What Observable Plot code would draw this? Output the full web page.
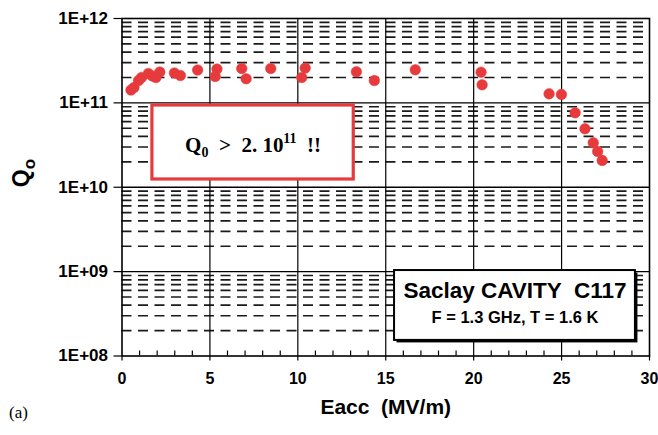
<!DOCTYPE html>
<html>
<head>
<meta charset="utf-8">
<script src="https://cdn.jsdelivr.net/npm/d3@7"></script>
<script src="https://cdn.jsdelivr.net/npm/@observablehq/plot@0.6"></script>
<style>
  html, body { margin: 0; padding: 0; background: #fff; }
  #chart svg { display: block; }
</style>
</head>
<body>
<div id="chart"></div>
<script>
// ---- data ----
const eacc = [0.51, 0.68, 0.94, 1.11, 1.50, 1.73, 1.93, 2.15, 2.98, 3.32, 4.30, 5.30, 5.40, 6.81, 7.06, 8.46, 10.22, 10.42, 13.33, 14.35, 16.68, 20.42, 20.48, 24.29, 24.99, 25.77, 26.33, 26.80, 27.05, 27.31];
const q0   = [1.42e11, 1.52e11, 1.84e11, 2.00e11, 2.23e11, 2.08e11, 2.00e11, 2.32e11, 2.26e11, 2.11e11, 2.45e11, 2.06e11, 2.52e11, 2.56e11, 1.93e11, 2.56e11, 2.00e11, 2.59e11, 2.34e11, 1.84e11, 2.47e11, 2.31e11, 1.64e11, 1.28e11, 1.26e11, 7.64e10, 4.93e10, 3.37e10, 2.66e10, 2.08e10];

const xTicks = [0, 5, 10, 15, 20, 25, 30];
const xGrid = [5, 10, 15, 20, 25];
const xMinor = [1,2,3,4,6,7,8,9,11,12,13,14,16,17,18,19,21,22,23,24,26,27,28,29];
const yTicks = [1e8, 1e9, 1e10, 1e11, 1e12];
const yTickLabels = ["1E+08", "1E+09", "1E+10", "1E+11", "1E+12"];
const yDecadeGrid = [1e9, 1e10, 1e11];
const minorMult = [2, 3, 4, 5, 6, 7, 8, 9];
const decades = [1e8, 1e9, 1e10, 1e11];

const xLabel = "Eacc  (MV/m)";
const yLabelMain = "Q";
const yLabelSub = "o";
const panelLabel = "(a)";
const redText = "Q0 > 2. 10^11 !!";

// annotation boxes (data units)
const redBox = {x1: 1.73, x2: 13.18, y1: 1.236e10, y2: 9.31e10};
const blackBox = {x1: 15.5, x2: 29.2, y1: 1.53e8, y2: 1.03e9};
const infoLine1 = "Saclay CAVITY  C117";
const infoLine2 = "F = 1.3 GHz, T = 1.6 K";

// ---- derived tables ----
const points = eacc.map((x, i) => ({x, y: q0[i]}));
const yMinor = decades.flatMap(d => minorMult.map(m => m * d));

const W = 658, H = 435;
const mL = 121.5, mR = 9, mT = 18, mB = 79.5;
const innerH = H - mT - mB;
const sans = "'Liberation Sans', Arial, Helvetica, sans-serif";
const serif = "'Liberation Serif', 'Times New Roman', Times, serif";
const red = "#e63a3c";

const plot = Plot.plot({
  width: W,
  height: H,
  marginLeft: mL,
  marginRight: mR,
  marginTop: mT,
  marginBottom: mB,
  style: {fontFamily: sans, background: "#fff", color: "#000"},
  x: {domain: [0, 30]},
  y: {type: "log", domain: [1e8, 1e12]},
  marks: [
    Plot.ruleY(yMinor, {stroke: "#1a1a1a", strokeWidth: 1.7, strokeDasharray: "10,6.5"}),
    Plot.ruleY(yDecadeGrid, {stroke: "#000", strokeWidth: 1.4}),
    Plot.ruleX(xGrid, {stroke: "#000", strokeWidth: 1.2}),
    Plot.tickX(xMinor, {stroke: "#000", strokeWidth: 1.2, insetTop: innerH - 5}),
    Plot.rect([redBox], {x1: "x1", x2: "x2", y1: "y1", y2: "y2", fill: "#fff", stroke: red, strokeWidth: 3.2}),
    Plot.text([redText], {
      x: (redBox.x1 + redBox.x2) / 2,
      y: Math.sqrt(redBox.y1 * redBox.y2),
      dy: 3,
      fontFamily: serif, fontWeight: "bold", fontSize: 21, fill: "#000"
    }),
    Plot.rect([blackBox], {x1: "x1", x2: "x2", y1: "y1", y2: "y2", fill: "#000", dx: 2.5, dy: 2.5}),
    Plot.rect([blackBox], {x1: "x1", x2: "x2", y1: "y1", y2: "y2", fill: "#fff", stroke: "#000", strokeWidth: 2}),
    Plot.text([infoLine1], {
      x: (blackBox.x1 + blackBox.x2) / 2,
      y: Math.sqrt(blackBox.y1 * blackBox.y2),
      dy: -15, fontWeight: "bold", fontSize: 22.5, fill: "#000"
    }),
    Plot.text([infoLine2], {
      x: (blackBox.x1 + blackBox.x2) / 2,
      y: Math.sqrt(blackBox.y1 * blackBox.y2),
      dy: 12, fontWeight: "bold", fontSize: 16.5, fill: "#000"
    }),
    Plot.dot(points, {x: "x", y: "y", r: 5.3, fill: red, stroke: red, strokeWidth: 0.5}),
    Plot.frame({stroke: "#000", strokeWidth: 1.6}),
    Plot.axisX(xTicks, {
      tickSize: 5, tickPadding: 12, fontSize: 16, fontWeight: "bold",
      label: null, stroke: "#000", strokeWidth: 1.2
    }),
    Plot.axisY(yTicks, {
      tickSize: 8, tickPadding: 6, fontSize: 17, fontWeight: "bold",
      tickFormat: d => yTickLabels[yTicks.indexOf(d)],
      label: null, stroke: "#000", strokeWidth: 1.2
    }),
    Plot.text([xLabel], {frameAnchor: "bottom", dy: 58, fontSize: 21, fontWeight: "bold", fill: "#000"}),
    Plot.text([yLabelMain], {frameAnchor: "left", dx: -100, rotate: -90, fontSize: 23, fontWeight: "bold", fill: "#000"}),
    Plot.text([panelLabel], {frameAnchor: "bottom-left", dx: -113, dy: 62, textAnchor: "start", fontFamily: serif, fontSize: 17, fill: "#000"})
  ]
});

document.getElementById("chart").appendChild(plot);

// rich text: subscripts / superscripts as real tspans
const svg = d3.select(plot);
const byText = s => svg.selectAll("text").filter(function () { return this.textContent === s; });

byText(redText).each(function () {
  const t = d3.select(this);
  t.text(null).style("white-space", "pre");
  t.append("tspan").text("Q");
  t.append("tspan").attr("dy", 5).attr("font-size", 14).text("0");
  t.append("tspan").attr("dy", -5).text("  >  2. 10");
  t.append("tspan").attr("dy", -9).attr("font-size", 14).text("11");
  t.append("tspan").attr("dy", 9).text("  !!");
});
byText(infoLine1).style("white-space", "pre");
byText(infoLine2).style("white-space", "pre");
byText(xLabel).style("white-space", "pre");
byText(yLabelMain).each(function () {
  const t = d3.select(this);
  t.text(null);
  t.append("tspan").text(yLabelMain);
  t.append("tspan").attr("dy", 6).attr("font-size", 17).text(yLabelSub);
});
</script>
</body>
</html>
